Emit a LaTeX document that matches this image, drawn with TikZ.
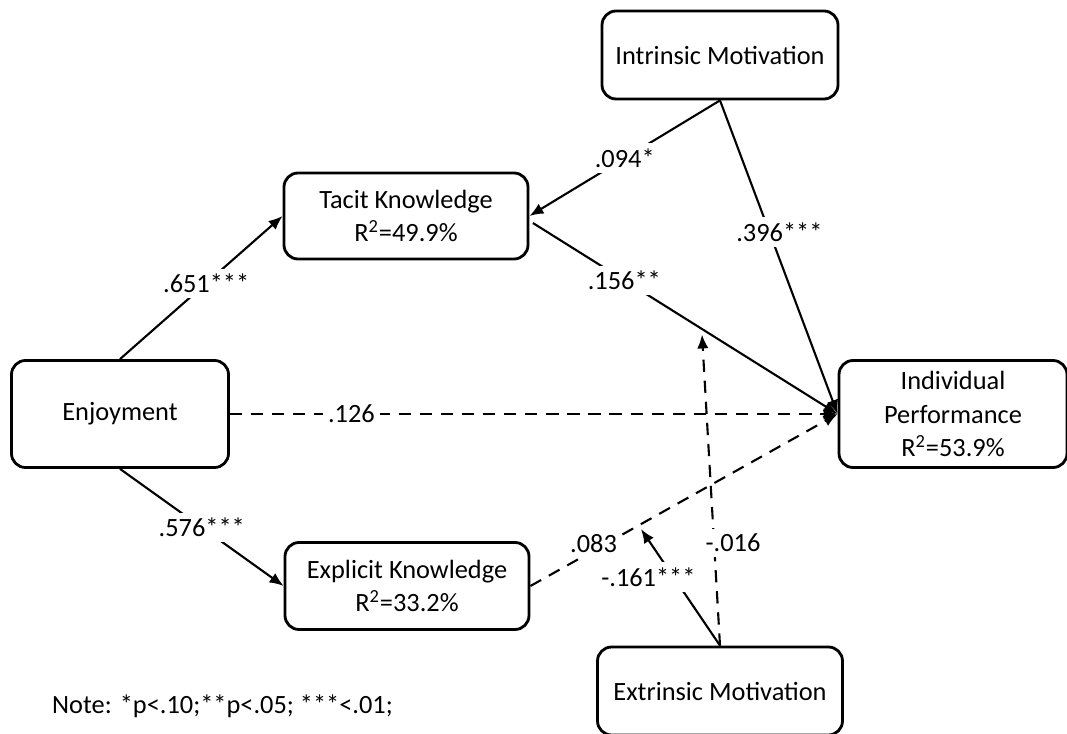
\documentclass[tikz,border=0pt]{standalone}
\usepackage{fontspec}
\setmainfont{Carlito}
\usepackage{tikz}
\usetikzlibrary{positioning,calc,arrows.meta}

\begin{document}
\begin{tikzpicture}[
    font=\fontsize{15}{19}\selectfont,
    box/.style={draw, line width=1.6pt, rounded corners=8pt, align=center, inner sep=2pt},
    link/.style={line width=1.2pt},
    arr/.style={-{Latex[length=8pt,width=6.5pt]}},
    dsh/.style={dash pattern=on 7pt off 5pt},
    lbl/.style={fill=white, inner sep=3pt}
  ]
    \useasboundingbox (0,0) rectangle (21.34,14.66);

    % Constructs
    \node[box, minimum width=4.72cm, minimum height=1.76cm] (intr) at (14.40,13.56) {Intrinsic Motivation};
    \node[box, minimum width=4.88cm, minimum height=1.72cm] (tacit) at (8.12,10.34) {Tacit Knowledge\\R\textsuperscript{2}=49.9\%};
    \node[box, minimum width=4.34cm, minimum height=2.14cm] (enjoy) at (2.40,6.38) {Enjoyment};
    \node[box, minimum width=4.56cm, minimum height=2.14cm] (perf) at (19.06,6.38) {Individual\\Performance\\R\textsuperscript{2}=53.9\%};
    \node[box, minimum width=4.88cm, minimum height=1.74cm] (expl) at (8.14,2.94) {Explicit Knowledge\\R\textsuperscript{2}=33.2\%};
    \node[box, minimum width=4.90cm, minimum height=1.76cm] (extr) at (14.40,0.84) {Extrinsic Motivation};

    % Paths from Enjoyment
    \draw[link, arr] (enjoy.north) -- node[lbl, pos=0.53] {.651***} (tacit.west);
    \draw[link, arr] (enjoy.south) -- node[lbl, pos=0.5] {.576***} (expl.west);
    \draw[link, arr, dsh] (enjoy.east) -- node[lbl, pos=0.2] {.126} (perf.west);

    % Paths from Intrinsic Motivation
    \draw[link, arr] (intr.south) -- node[lbl, pos=0.5] {.094*} (tacit.east);
    \draw[link, arr] (intr.south) -- node[lbl, pos=0.42, xshift=0.2cm] {.396***} (perf.west);

    % Knowledge to performance
    \draw[link, arr] ([xshift=2pt,yshift=-4pt]tacit.east) -- node[lbl, pos=0.3] {.156**} (perf.west);
    \draw[link, arr, dsh] (expl.east) -- node[lbl, pos=0.16, xshift=0.28cm, yshift=0.3cm] {.083} (perf.west);

    % Moderation by Extrinsic Motivation
    \coordinate (mtac) at ($(tacit.east)!0.56!(perf.west)+(0,-0.15)$);
    \coordinate (mexp) at ($(expl.east)!0.36!(perf.west)+(0,-0.1)$);
    \draw[link, arr, dsh] (extr.north) -- node[lbl, pos=0.33, xshift=0.38cm] {-.016} (mtac);
    \draw[link, arr] (extr.north) -- node[lbl, pos=0.59, xshift=-0.5cm] {-.161***} (mexp);

    % Note
    \node[anchor=west] (note) at (0.92,0.54) {Note: *p<.10;**p<.05; ***<.01;};
\end{tikzpicture}
\end{document}
